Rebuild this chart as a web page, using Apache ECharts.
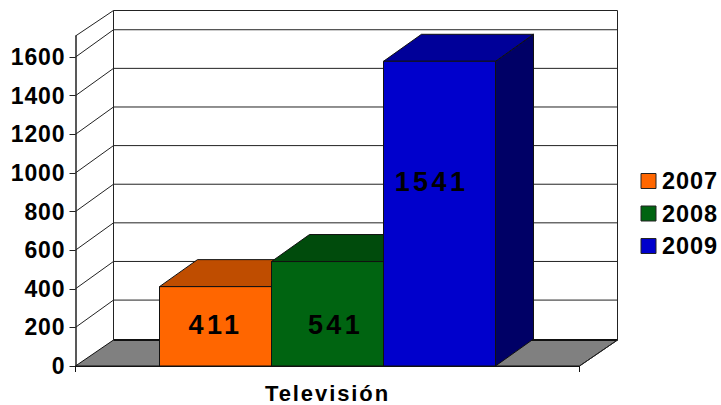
<!DOCTYPE html>
<html><head><meta charset="utf-8">
<style>
html,body{margin:0;padding:0;background:#fff}
#c{width:721px;height:405px;letter-spacing:0.9px}
#c svg text[style*="27px"]{letter-spacing:3.4px}
#c svg text[style*="22px"]{letter-spacing:1.9px}
#c svg text[style*="23.5px"]{letter-spacing:0.9px}
</style>
<script src="https://cdn.jsdelivr.net/npm/echarts@6/dist/echarts.min.js"></script>
</head><body><div id="c"></div>
<script>
const categories = ['Televisión'];
const years = ['2007', '2008', '2009'];
const barValues = [411, 541, 1578];
const barLabels = ['411', '541', '1541'];
const yTicks = [0, 200, 400, 600, 800, 1000, 1200, 1400, 1600];
const axisTop = 1709;

const faceColors = ['#FF6600', '#006411', '#0000CC'];
const topColors = ['#BF4D00', '#004B0C', '#000099'];
const sideColors = ['#803300', '#003206', '#000066'];
const labelShift = [[0, -1], [8, 11], [-8, -32]];
const FONT = '"Liberation Sans", Arial, sans-serif';
const WALL_DX = 38, FLOOR_DY = 26, GRID_DY = 27.3, TOP_DY = 25.5, BAR_DX = 38, BAR_DY = 27;
const LINE = '#222';

function poly(points, fill, stroke, lw) {
  return { type: 'polygon', shape: { points }, style: { fill, stroke: stroke || '#111', lineWidth: lw == null ? 1 : lw } };
}
function seg(a, b, w, color) {
  return { type: 'line', shape: { x1: a[0], y1: a[1], x2: b[0], y2: b[1] }, style: { stroke: color || LINE, lineWidth: w || 1 } };
}
function renderWalls(params, api) {
  const band = api.size([1, 0])[0];
  const c0 = api.coord([0, 0]);
  const L = c0[0] - band / 2, R = c0[0] + band / 2, B = c0[1];
  const topY = api.coord([0, axisTop])[1];
  const kids = [];
  kids.push(poly([[L, B], [L + WALL_DX, B - FLOOR_DY], [R + WALL_DX, B - FLOOR_DY], [R, B]], '#808080', '#111', 1));
  kids.push(seg([L + WALL_DX, B - FLOOR_DY], [R + WALL_DX, B - FLOOR_DY], 2, '#111'));
  yTicks.slice(1).forEach(v => {
    const y = api.coord([0, v])[1];
    kids.push(seg([L, y], [L + WALL_DX, y - GRID_DY], 1));
    kids.push(seg([L + WALL_DX, y - GRID_DY], [R + WALL_DX, y - GRID_DY], 1));
  });
  kids.push(seg([L, topY], [L + WALL_DX, topY - TOP_DY], 1));
  kids.push(seg([L + WALL_DX, topY - TOP_DY], [R + WALL_DX, topY - TOP_DY], 1));
  kids.push(seg([L + WALL_DX, topY - TOP_DY], [L + WALL_DX, B - FLOOR_DY], 1));
  kids.push(seg([R + WALL_DX, topY - TOP_DY], [R + WALL_DX, B - FLOOR_DY], 1));
  kids.push(seg([R, B], [R + WALL_DX, B - FLOOR_DY], 1));
  return { type: 'group', children: kids };
}
function makeBar(idx) {
  return function (params, api) {
    const band = api.size([1, 0])[0];
    const w = band / 4.5;
    const base = api.coord([0, 0]);
    const top = api.coord([0, api.value(1)]);
    const x0 = base[0] - band / 2 + w * (0.75 + idx), x1 = x0 + w;
    const yT = top[1], yB = base[1];
    const s = labelShift[idx];
    return { type: 'group', children: [
      poly([[x1, yB], [x1 + BAR_DX, yB - BAR_DY], [x1 + BAR_DX, yT - BAR_DY], [x1, yT]], sideColors[idx]),
      poly([[x0, yT], [x0 + BAR_DX, yT - BAR_DY], [x1 + BAR_DX, yT - BAR_DY], [x1, yT]], topColors[idx]),
      { type: 'rect', shape: { x: x0, y: yT, width: w, height: yB - yT }, style: { fill: faceColors[idx], stroke: '#111', lineWidth: 1 } },
      { type: 'text', z2: 5, style: { text: barLabels[idx], x: (x0 + x1) / 2 + s[0], y: (yT + yB) / 2 + s[1],
        fill: '#000', font: 'bold 27px ' + FONT, align: 'center', verticalAlign: 'middle' } }
    ] };
  };
}
const chart = echarts.init(document.getElementById('c'), null, { renderer: 'svg' });
chart.setOption({
  animation: false,
  backgroundColor: '#fff',
  grid: { left: 75.5, width: 504, top: 36, height: 330, containLabel: false },
  legend: {
    data: years, orient: 'vertical', left: 635.5, top: 164, itemWidth: 15, itemHeight: 15, itemGap: 8.5,
    selectedMode: false, icon: 'rect',
    itemStyle: { borderColor: '#222', borderWidth: 1 },
    textStyle: { color: '#000', fontFamily: FONT, fontWeight: 'bold', fontSize: 23.5, padding: [0, 0, 0, 1], lineHeight: 20.5, height: 20.5 }
  },
  xAxis: {
    type: 'category', data: categories, z: 10,
    axisLine: { lineStyle: { color: '#111', width: 1 } },
    axisTick: { show: true, length: 6, lineStyle: { color: '#111' } },
    axisLabel: { color: '#000', fontFamily: FONT, fontWeight: 'bold', fontSize: 22, margin: 16 }
  },
  yAxis: {
    type: 'value', min: 0, max: axisTop,
    splitLine: { show: false },
    axisLine: { show: true, lineStyle: { color: '#222', width: 1.5 } },
    axisTick: { show: true, length: 6, customValues: yTicks, lineStyle: { color: '#222' } },
    axisLabel: { customValues: yTicks, formatter: v => String(v), color: '#000', fontFamily: FONT, fontWeight: 'bold', fontSize: 23, margin: 10 }
  },
  series: [
    { type: 'custom', name: 'walls', data: [[0, 0]], renderItem: renderWalls, silent: true, z: 1 }
  ].concat(years.map((y, i) => ({
    type: 'custom', name: y, data: [[0, barValues[i]]], renderItem: makeBar(i), z: 2 + i,
    itemStyle: { color: faceColors[i] }
  })))
});
</script></body></html>
